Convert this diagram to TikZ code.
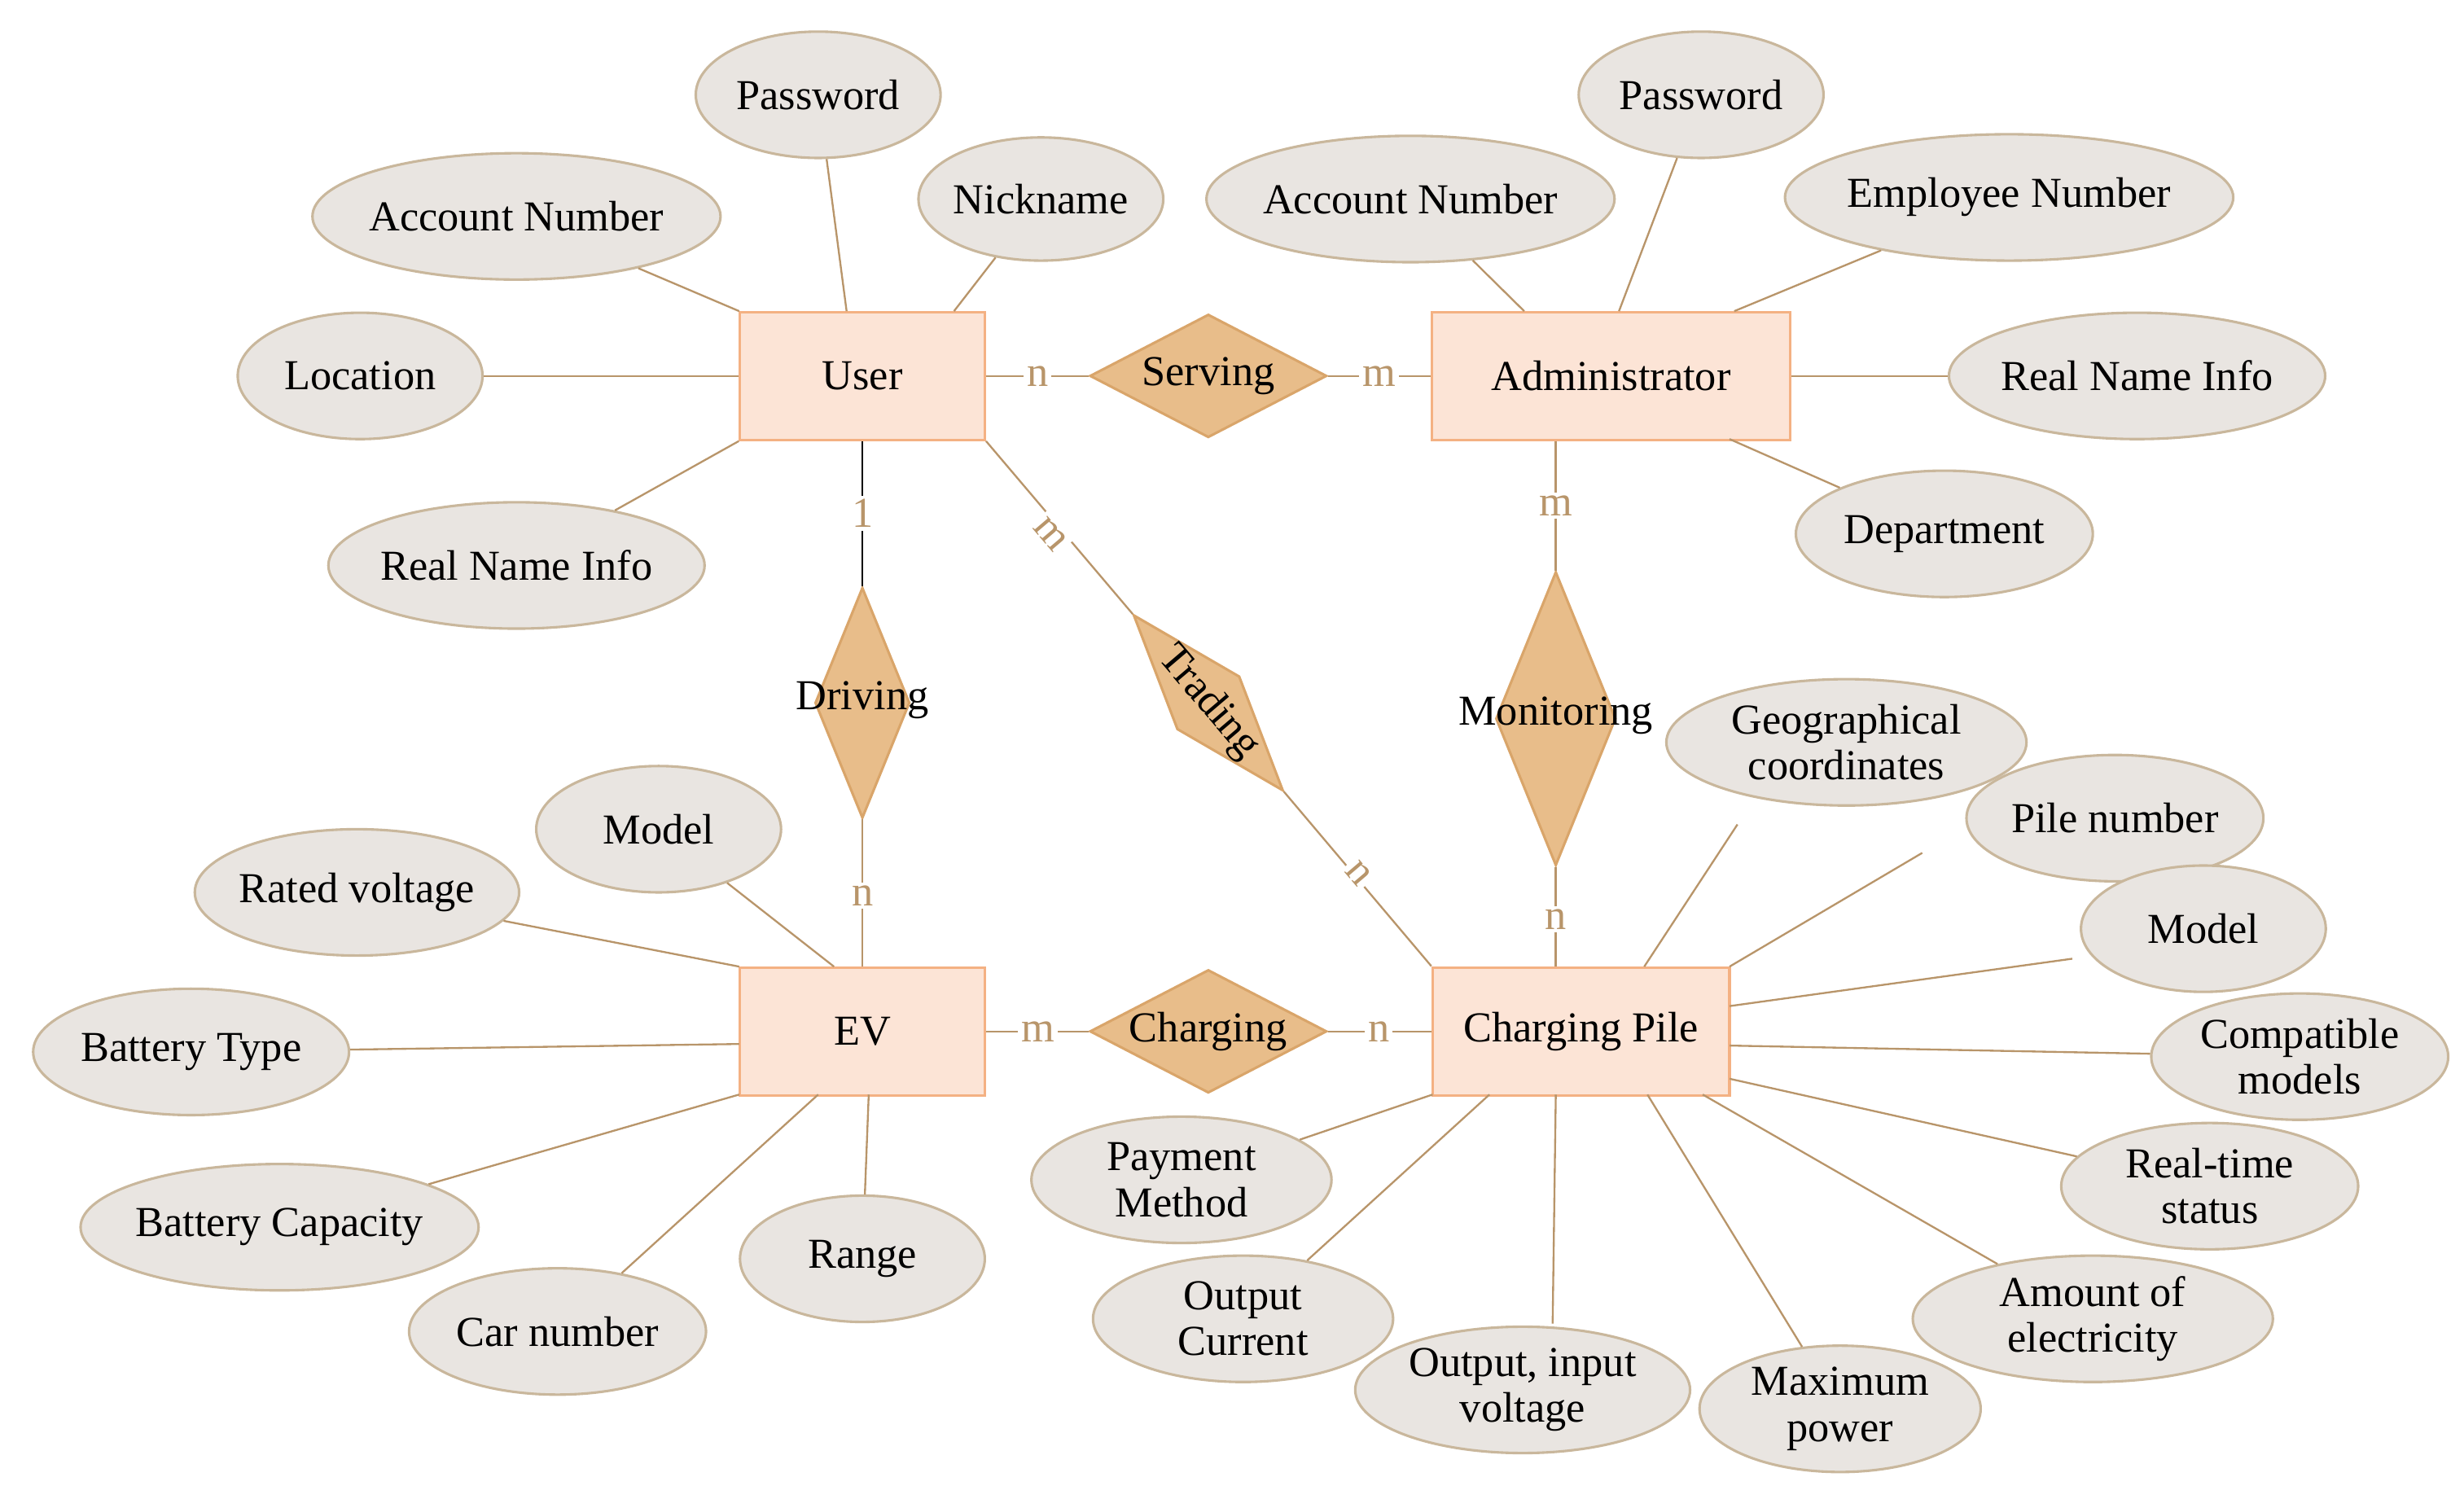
\documentclass[tikz,border=0pt]{standalone}
\usepackage{fontspec}
\setmainfont{Liberation Serif}
\usetikzlibrary{shapes.geometric}
\definecolor{ent}{HTML}{FCE4D6}
\definecolor{entb}{HTML}{F4B183}
\definecolor{rel}{HTML}{E8BD8A}
\definecolor{relb}{HTML}{D9A56A}
\definecolor{att}{HTML}{E9E5E1}
\definecolor{attb}{HTML}{C9B79C}
\definecolor{ln}{HTML}{B8956A}
\begin{document}
\begin{tikzpicture}[x=0.5pt,y=-0.5pt,font=\fontsize{13.5}{14.5}\selectfont,
 ent/.style={draw=entb,fill=ent,line width=0.8pt,rectangle,minimum width=77.5pt,minimum height=40.5pt,inner sep=0pt},
 att/.style n args={2}{draw=attb,fill=att,line width=0.8pt,ellipse,minimum width=#1*0.5pt,minimum height=#2*0.5pt,inner sep=-1pt,align=center},
 c/.style={ln,line width=0.6pt},
 card/.style={text=ln,fill=white,inner sep=1pt}]
\useasboundingbox (0,0) rectangle (1560,949);
% entities
\node[ent] (user) at (546,238) {User};
\node[ent,minimum width=113.5pt] (admin) at (1020,238) {Administrator};
\node[ent] (ev) at (546,653) {EV};
\node[ent,minimum width=94pt] (cp) at (1001,653) {Charging Pile};
% relations
\node[draw=relb,fill=rel,line width=0.8pt,diamond,minimum width=75pt,minimum height=39pt,inner sep=0pt] (serv) at (765,238) {};
\node at (765,238) {Serving};
\node[draw=relb,fill=rel,line width=0.8pt,diamond,minimum width=75pt,minimum height=39pt,inner sep=0pt] (chg) at (765,653) {};
\node at (765,653) {Charging};
\node[draw=relb,fill=rel,line width=0.8pt,diamond,minimum width=30pt,minimum height=73pt,inner sep=0pt] (drv) at (546,445) {};
\node at (546,443) {Driving};
\node[draw=relb,fill=rel,line width=0.8pt,diamond,minimum width=38pt,minimum height=93pt,inner sep=0pt] (mon) at (985,455) {};
\node at (985,453) {Monitoring};
\node[draw=relb,fill=rel,line width=0.8pt,diamond,minimum width=73pt,minimum height=26pt,inner sep=0pt,rotate=-49.6] (trd) at (765,445) {};
\node[rotate=-49.6] at (765,445) {Trading};
% relation lines
\draw[c] (user.east) -- (serv.west); \draw[c] (serv.east) -- (admin.west);
\draw[c] (ev.east) -- (chg.west); \draw[c] (chg.east) -- (cp.west);
\draw[black,line width=0.7pt] (user.south) -- (drv.north);
\draw[c] (drv.south) -- (ev.north);
\draw[c] (admin.south -| mon) -- (mon.north); \draw[c] (mon.south) -- (cp.north -| mon);
\draw[c] (user.south east) -- (trd.west); \draw[c] (trd.east) -- (cp.north west);
\node[card] at (657,238) {n}; \node[card] at (873,238) {m};
\node[card] at (657,653) {m}; \node[card] at (873,653) {n};
\node[card] at (546,325) {1}; \node[card] at (546,567) {n};
\node[card] at (985,320) {m}; \node[card] at (985,582) {n};
\node[card,rotate=-49.6] at (665,338) {m}; \node[card,rotate=-49.6] at (860,553) {n};
% user attributes
\node[att={155}{80}] (u1) at (518,60) {Password};
\node[att={228}{80}] (u2) at (327,137) {Account Number};
\node[att={155}{78}] (u3) at (659,126) {Nickname};
\node[att={155}{80}] (u4) at (228,238) {Location};
\node[att={228}{80}] (u5) at (327,358) {Real Name Info};
\draw[c] (u1) -- (536,197); \draw[c] (u2) -- (468,197); \draw[c] (u3) -- (604,197);
\draw[c] (u4) -- (user.west); \draw[c] (u5) -- (user.south west);
% admin attributes
\node[att={228}{80}] (a1) at (893,126) {Account Number};
\node[att={155}{80}] (a2) at (1077,60) {Password};
\node[att={228}{80}] (a3) at (1272,125) {Employee Number};
\node[att={228}{80}] (a4) at (1353,238) {Real Name Info};
\node[att={188}{80}] (a5) at (1231,338) {Department};
\draw[c] (a1) -- (965,197); \draw[c] (a2) -- (1025,197); \draw[c] (a3) -- (1098,197);
\draw[c] (a4) -- (admin.east); \draw[c] (a5) -- (1095,278);
% EV attributes
\node[att={155}{80}] (e1) at (417,525) {Model};
\node[att={198}{80}] (e2) at (226,565) {Rated voltage};
\node[att={200}{80}] (e3) at (121,666) {Battery Type};
\node[att={228}{80}] (e4) at (177,777) {Battery Capacity};
\node[att={188}{80}] (e5) at (353,843) {Car number};
\node[att={155}{80}] (e6) at (546,797) {Range};
\draw[c] (e1) -- (528,612); \draw[c] (e2) -- (468,612); \draw[c] (e3) -- (468,661);
\draw[c] (e4) -- (468,693); \draw[c] (e5) -- (518,693); \draw[c] (e6) -- (550,693);
% CP attributes
\node[att={228}{80}] (p1) at (1169,470) {Geographical\\coordinates};
\node[att={188}{80}] (p2) at (1339,518) {Pile number};
\node[att={155}{80}] (p3) at (1395,588) {Model};
\node[att={188}{80}] (p4) at (1456,669) {Compatible\\models};
\node[att={188}{80}] (p5) at (1399,751) {Real-time\\status};
\node[att={228}{80}] (p6) at (1325,835) {Amount of\\electricity};
\node[att={178}{80}] (p7) at (1165,892) {Maximum\\power};
\node[att={212}{80}] (p8) at (964,880) {Output, input\\voltage};
\node[att={190}{80}] (p9) at (787,835) {Output\\Current};
\node[att={190}{80}] (p10) at (748,747) {Payment\\Method};
\draw[c] (1041,612) -- (1100,522); \draw[c] (1095,612) -- (1217,540);
\draw[c] (1095,637) -- (1312,607); \draw[c] (1095,662) -- (p4);
\draw[c] (1095,683) -- (p5); \draw[c] (1078,693) -- (p6);
\draw[c] (1043,693) -- (p7); \draw[c] (985,693) -- (983,838);
\draw[c] (943,693) -- (p9); \draw[c] (907,693) -- (p10);
\end{tikzpicture}
\end{document}
